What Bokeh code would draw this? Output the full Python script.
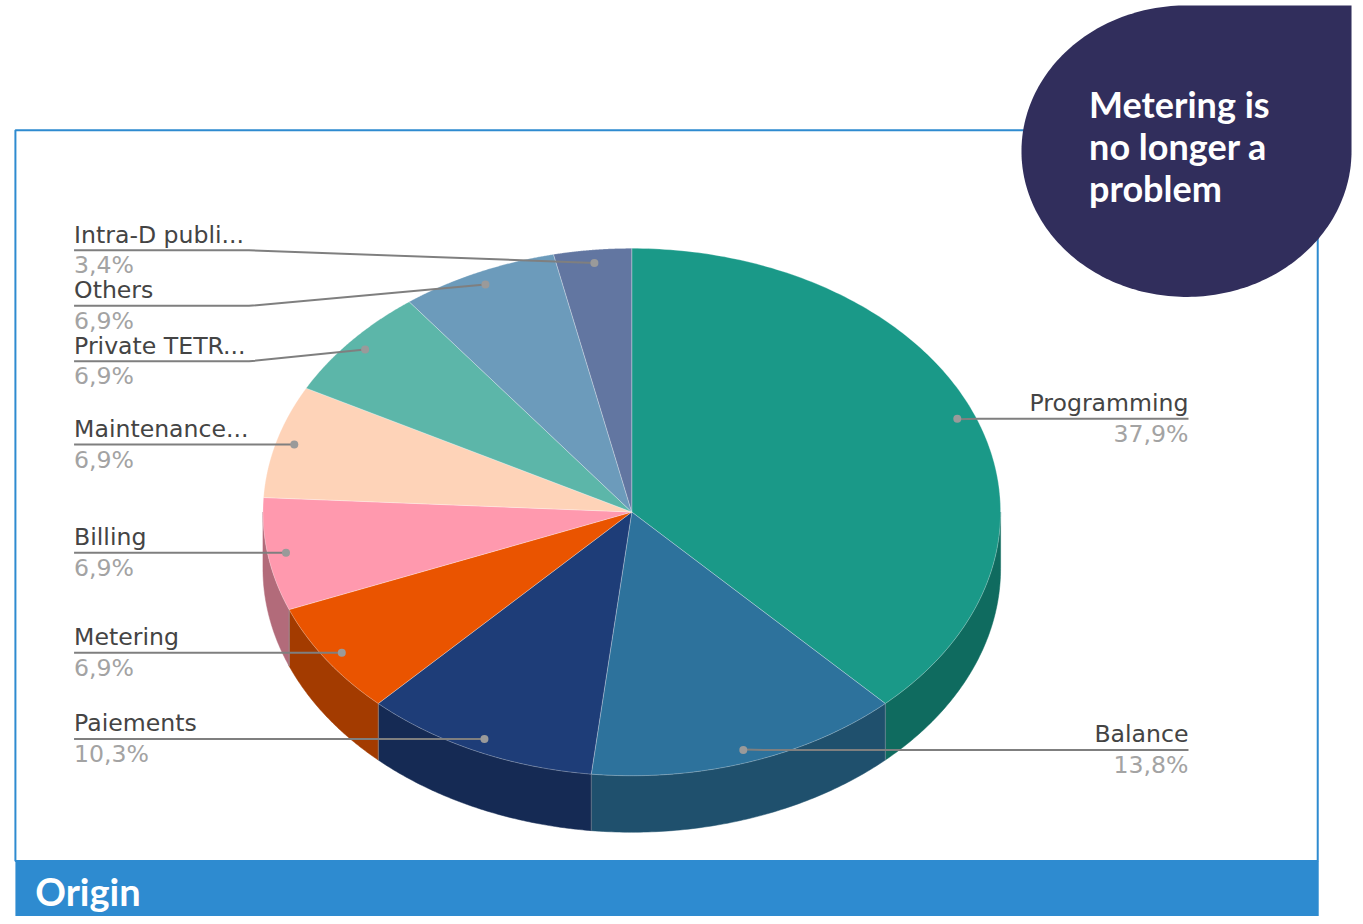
import numpy as np
from bokeh.plotting import figure
from bokeh.models import Range1d
from bokeh.core.properties import value
from bokeh.embed import file_html
from bokeh.resources import INLINE

categories = ["Programming", "Balance", "Paiements", "Metering", "Billing",
              "Maintenance...", "Private TETR...", "Others", "Intra-D publi..."]
shares = [37.9, 13.8, 10.3, 6.9, 6.9, 6.9, 6.9, 6.9, 3.4]
share_labels = ["37,9%", "13,8%", "10,3%", "6,9%", "6,9%", "6,9%", "6,9%", "6,9%", "3,4%"]
top_colors = ["#1a9988", "#2d729c", "#1e3d78", "#ea5400", "#ff99ae",
              "#fed3b8", "#5cb6a9", "#6c9bbb", "#6276a1"]
side_colors = ["#0f6b5f", "#1f506d", "#152a54", "#a33b00", "#b26b7a",
               "#b2947f", "#408076", "#4c6d83", "#455371"]
title_text = "Origin"
bubble_lines = ["Metering is", "no longer a", "problem"]

# layout, in reference pixels
CX, CY, RX, RY, DEPTH = 635, 516, 371, 266, 57
LABEL_LEFT, LABEL_RIGHT, ELBOW = 74, 1195, 250
label_y = [422, 756, 745, 658, 557, 448, 364, 308, 252]
label_side = ["r", "r", "l", "l", "l", "l", "l", "l", "l"]
LABEL_SIZE = 23.6
BASE_SHIFT = 0.37  # offset of the alphabetic anchor, in em

p = figure(width=1355, height=916, output_backend="svg", toolbar_location=None,
           x_range=Range1d(0, 1363), y_range=Range1d(924, 0),
           x_axis_type=None, y_axis_type=None, min_border=0,
           outline_line_color=None, background_fill_color="white")
p.grid.visible = False


def pt(turn, r=1.0, dy=0.0):
    a = np.asarray(turn) * 2 * np.pi
    return CX + RX * r * np.sin(a), CY - RY * r * np.cos(a) + dy


def label(x, baseline, txt, size, color, align="left", font="DejaVu Sans", style="normal"):
    p.text(x=[x], y=[baseline - BASE_SHIFT * size], text=[txt], text_font=value(font),
           text_font_style=style, text_font_size=f"{size}px", text_color=color,
           text_align=align, text_baseline="alphabetic")


# frame and band
p.quad(left=[15], right=[1325], top=[131], bottom=[868], fill_color="white",
       line_color="#2e8bd0", line_width=2)
p.quad(left=[15], right=[1326], top=[868], bottom=[924], fill_color="#2e8bd0",
       line_color=None)
label(35, 912, title_text, 38, "white", font="Lato", style="bold")

edges = np.concatenate([[0], np.cumsum(shares)]) / np.sum(shares)

for i in range(len(shares)):
    lo, hi = max(edges[i], 0.25), min(edges[i + 1], 0.75)
    if hi <= lo:
        continue
    t = np.linspace(lo, hi, 80)
    x, y = pt(t)
    xs = np.concatenate([x, x[::-1]])
    ys = np.concatenate([y, y[::-1] + DEPTH])
    p.patch(xs, ys, fill_color=side_colors[i], line_color=side_colors[i], line_width=0.5)
    for e in (lo, hi):
        if 0.25 < e < 0.75:
            ex, ey = pt(e)
            p.line([ex, ex], [ey, ey + DEPTH], line_color="#8fa0a8", line_width=0.7, line_alpha=0.7)

for i in range(len(shares)):
    t = np.linspace(edges[i], edges[i + 1], 160)
    x, y = pt(t)
    p.patch(np.concatenate([[CX], x]), np.concatenate([[CY], y]), fill_color=top_colors[i],
            line_color="white", line_alpha=0.35, line_width=0.8)

mids = (edges[:-1] + edges[1:]) / 2
for i, name in enumerate(categories):
    dx, dy = pt(mids[i], 0.95)
    ly = label_y[i]
    if label_side[i] == "r":
        xs, ys = [dx, dx + 22, LABEL_RIGHT], [dy, ly, ly]
        tx, align = LABEL_RIGHT, "right"
    elif abs(dy - ly) > 4:
        xs, ys = [dx, ELBOW, LABEL_LEFT], [dy, ly, ly]
        tx, align = LABEL_LEFT, "left"
    else:
        xs, ys = [dx, LABEL_LEFT], [ly, ly]
        tx, align = LABEL_LEFT, "left"
    p.line(xs, ys, line_color="#7f7f7f", line_width=2)
    p.scatter([dx], [ly if abs(dy - ly) <= 4 else dy], size=8, fill_color="#9a9a9a", line_color=None)
    label(tx, ly - 7, name, LABEL_SIZE, "#444444", align)
    label(tx, ly + 24, share_labels[i], LABEL_SIZE, "#a3a3a3", align)

BX, BY, BRX, BRY, BRIGHT, BTOP = 1193, 152, 166, 147, 1359, 5
th = np.linspace(0, 1.5 * np.pi, 200) + 0.5 * np.pi
bx = BX + BRX * np.cos(th)
by = BY - BRY * np.sin(th)
p.patch(np.concatenate([bx, [BRIGHT]]), np.concatenate([by, [BTOP]]), fill_color="#312e5c", line_color=None)
for line, y in zip(bubble_lines, [118, 160, 202]):
    label(1095, y, line, 36, "white", font="Lato", style="bold")

open("out.html", "w").write(file_html(p, INLINE))
